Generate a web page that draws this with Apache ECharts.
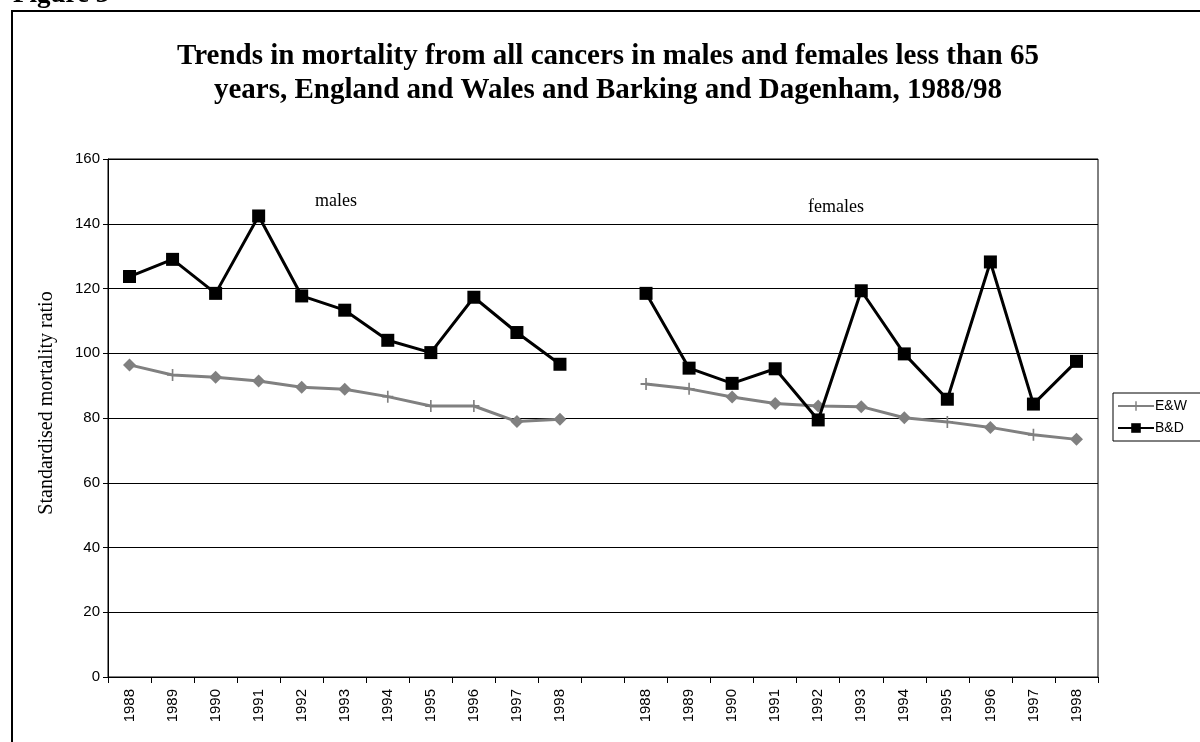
<!DOCTYPE html>
<html>
<head>
<meta charset="utf-8">
<script src="https://cdn.jsdelivr.net/npm/echarts@6/dist/echarts.min.js"></script>
<style>html,body{margin:0;padding:0;background:#fff}#c{width:1200px;height:742px}</style>
</head>
<body>
<div id="c"></div>
<script>
// Categories: males 1988-98, a gap, females 1988-98
const years = ['1988','1989','1990','1991','1992','1993','1994','1995','1996','1997','1998'];
const categories = years.concat(['']).concat(years);

const ewMales   = [96.4, 93.3, 92.6, 91.4, 89.5, 88.9, 86.6, 83.7, 83.7, 78.9, 79.6];
const ewFemales = [90.5, 89.0, 86.5, 84.5, 83.7, 83.5, 80.1, 78.8, 77.1, 74.8, 73.4];
const bdMales   = [123.7, 129.0, 118.5, 142.4, 117.7, 113.3, 104.0, 100.2, 117.3, 106.4, 96.6];
const bdFemales = [118.5, 95.4, 90.7, 95.2, 79.4, 119.3, 99.8, 85.8, 128.2, 84.3, 97.5];

// marker kind drawn at each E&W point in the original ('d' diamond, 'p' plus)
const ewMarkersMales   = ['d','p','d','d','d','d','p','p','p','d','d'];
const ewMarkersFemales = ['p','p','d','d','d','d','d','p','d','p','d'];

const yTicks = {min: 0, max: 160, interval: 20};

const PLUS = 'path://M8.5,0h3v20h-3z M0,8.5h20v3h-20z';
const GREY = '#808080';

const ewData = ewMales.concat([null]).concat(ewFemales);
const ewKinds = ewMarkersMales.concat([null]).concat(ewMarkersFemales);
const bdData = bdMales.concat([null]).concat(bdFemales);

const ewSeriesData = ewData.map((v, i) => {
  if (v === null) return null;
  if (ewKinds[i] === 'd') return {value: v, symbol: 'diamond', symbolSize: 13};
  return {value: v};
});

const chart = echarts.init(document.getElementById('c'), null, {renderer: 'canvas'});
chart.setOption({
  animation: false,
  backgroundColor: '#fff',
  grid: {left: 108, right: 102, top: 159, bottom: 65, show: true, borderColor: '#000', borderWidth: 1},
  xAxis: {
    type: 'category',
    data: categories,
    boundaryGap: true,
    axisLine: {lineStyle: {color: '#000', width: 1}},
    axisTick: {show: true, alignWithLabel: false, length: 6, interval: 0, lineStyle: {color: '#000'}},
    axisLabel: {interval: 0, rotate: 90, margin: 12, color: '#000', fontFamily: 'Liberation Sans', fontSize: 15},
    splitLine: {show: false}
  },
  yAxis: {
    type: 'value',
    min: yTicks.min, max: yTicks.max, interval: yTicks.interval,
    axisLine: {show: true, lineStyle: {color: '#000', width: 1}},
    axisTick: {show: true, length: 5, lineStyle: {color: '#000'}},
    axisLabel: {color: '#000', fontFamily: 'Liberation Sans', fontSize: 15, margin: 8},
    splitLine: {show: true, lineStyle: {color: '#000', width: 1}}
  },
  legend: {
    orient: 'vertical',
    left: 1113, top: 393,
    width: 85,
    padding: [6, 20, 6, 4],
    itemGap: 8,
    itemWidth: 36, itemHeight: 12,
    borderColor: '#000', borderWidth: 1,
    textStyle: {color: '#000', fontFamily: 'Liberation Sans', fontSize: 14, padding: [0,0,0,-4]},
    data: ['E&W', 'B&D']
  },
  series: [
    {
      name: 'E&W', type: 'line', data: ewSeriesData,
      symbol: PLUS, symbolSize: [11, 12], showAllSymbol: true,
      connectNulls: false,
      lineStyle: {color: GREY, width: 3},
      itemStyle: {color: GREY, borderWidth: 0},
      z: 3
    },
    {
      name: 'B&D', type: 'line', data: bdData,
      symbol: 'rect', symbolSize: 13, showAllSymbol: true,
      connectNulls: false,
      lineStyle: {color: '#000', width: 3},
      itemStyle: {color: '#000', borderWidth: 0},
      z: 4
    }
  ],
  graphic: [
    {type: 'rect', shape: {x: 12, y: 11, width: 1200, height: 800}, style: {fill: 'none', stroke: '#000', lineWidth: 2}, silent: true, z: 100},
    {type: 'text', x: 13, y: 9, style: {text: 'Figure 3', font: 'bold 27px "Liberation Serif"', fill: '#000', verticalAlign: 'bottom', align: 'left'}},
    {type: 'text', x: 608, y: 74, style: {text: 'Trends in mortality from all cancers in males and females less than 65\nyears, England and Wales and Barking and Dagenham, 1988/98', font: 'bold 29px "Liberation Serif"', lineHeight: 34, fill: '#000', align: 'center', verticalAlign: 'middle'}},
    {type: 'text', x: 336, y: 201, style: {text: 'males', font: '18px "Liberation Serif"', fill: '#000', align: 'center', verticalAlign: 'middle'}},
    {type: 'text', x: 836, y: 207, style: {text: 'females', font: '18px "Liberation Serif"', fill: '#000', align: 'center', verticalAlign: 'middle'}},
    {type: 'text', x: 47, y: 403, rotation: Math.PI / 2, style: {text: 'Standardised mortality ratio', font: '20px "Liberation Serif"', fill: '#000', align: 'center', verticalAlign: 'middle'}}
  ]
});
</script>
</body>
</html>
